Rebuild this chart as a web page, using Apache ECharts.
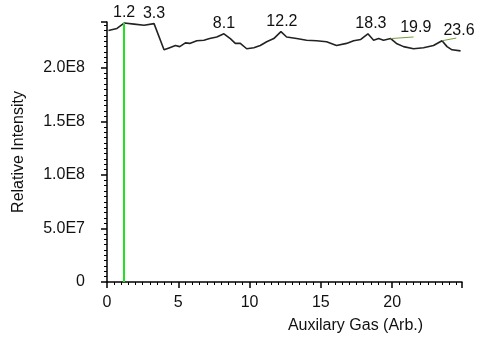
<!DOCTYPE html>
<html>
<head>
<meta charset="utf-8">
<script src="https://cdn.jsdelivr.net/npm/echarts@6/dist/echarts.min.js"></script>
<style>
  html, body { margin: 0; padding: 0; background: #fff; }
  #chart { width: 478px; height: 339px; }
</style>
</head>
<body>
<div id="chart"></div>
<script>
// 曲线数据 (x = Auxilary Gas, y = Relative Intensity)
const gasX = [0.1, 0.7, 1.2, 1.9, 2.6, 3.3, 4.0, 4.4, 4.8, 5.1, 5.5, 5.8, 6.3, 6.8, 7.2, 7.7, 8.2,
  8.65, 9.0, 9.35, 9.8, 10.3, 10.75, 11.2, 11.7, 12.2, 12.6, 13.3, 14.0, 14.7, 15.4, 16.1, 16.8,
  17.3, 17.8, 18.3, 18.7, 19.05, 19.4, 19.9, 20.3, 20.8, 21.5, 22.2, 22.9, 23.5, 23.85, 24.2, 24.8]
const intensity = [2.35e8, 2.37e8, 2.42e8, 2.41e8, 2.40e8, 2.415e8, 2.17e8, 2.19e8, 2.21e8, 2.20e8, 2.235e8, 2.23e8, 2.255e8, 2.26e8, 2.275e8, 2.29e8, 2.32e8,
  2.275e8, 2.23e8, 2.23e8, 2.18e8, 2.19e8, 2.21e8, 2.245e8, 2.275e8, 2.34e8, 2.29e8, 2.275e8, 2.26e8, 2.255e8, 2.245e8, 2.21e8, 2.23e8,
  2.255e8, 2.267e8, 2.32e8, 2.26e8, 2.275e8, 2.26e8, 2.275e8, 2.23e8, 2.20e8, 2.18e8, 2.19e8, 2.21e8, 2.255e8, 2.20e8, 2.17e8, 2.16e8]

// 峰值标注
const peakLabels = ['1.2', '3.3', '8.1', '12.2', '18.3', '19.9', '23.6']
const peakX = [1.2, 3.3, 8.2, 12.2, 18.3, 19.9, 23.5]
const peakY = [2.42e8, 2.415e8, 2.32e8, 2.34e8, 2.32e8, 2.275e8, 2.255e8]
const labelShift = [[0, 0], [0, 0], [0, 0], [1, 0], [3, 0], [25, 0], [17, 0]]

const yTickLabels = { 0: '0', 50000000: '5.0E7', 100000000: '1.0E8', 150000000: '1.5E8', 200000000: '2.0E8' }

const chart = echarts.init(document.getElementById('chart'))

const textFont = 'Liberation Sans'

const markPoints = peakLabels.map((t, i) => ({
  coord: [peakX[i], peakY[i]],
  value: t,
  symbol: 'circle',
  symbolSize: 1,
  itemStyle: { color: 'rgba(0,0,0,0)' },
  label: {
    show: true,
    formatter: t,
    position: 'top',
    distance: 2,
    offset: labelShift[i],
    color: '#111',
    fontSize: 16,
    fontFamily: textFont
  }
}))

// 19.9 和 23.6 的引线
const leaderLines = [
  [{ coord: [19.9, 2.275e8] }, { coord: [21.5, 2.29e8] }],
  [{ coord: [23.5, 2.255e8] }, { coord: [24.5, 2.28e8] }],
  [{ coord: [3.3, 2.415e8] }, { coord: [3.6, 2.44e8] }]
]

const options = {
  animation: false,
  grid: { left: 107, right: 16, top: 22, bottom: 56 },
  xAxis: {
    type: 'value',
    min: 0,
    max: 24.9,
    interval: 5,
    name: 'Auxilary Gas (Arb.)',
    nameLocation: 'middle',
    nameGap: 36,
    nameTextStyle: { color: '#111', fontSize: 16, fontFamily: textFont, padding: [0, 0, 0, 142] },
    axisLine: { lineStyle: { color: '#000', width: 1.5 } },
    axisTick: { length: 6, lineStyle: { color: '#000', width: 1.5 } },
    minorTick: { show: true, splitNumber: 10, length: 3, lineStyle: { color: '#000' } },
    axisLabel: { color: '#111', fontSize: 16, fontFamily: textFont, margin: 13, showMaxLabel: false },
    splitLine: { show: false }
  },
  yAxis: {
    type: 'value',
    min: 0,
    max: 2.43e8,
    interval: 5e7,
    name: 'Relative Intensity',
    nameLocation: 'middle',
    nameGap: 80,
    nameTextStyle: { color: '#111', fontSize: 16, fontFamily: textFont },
    axisLine: { show: true, lineStyle: { color: '#000', width: 1.5 } },
    axisTick: { show: true, length: 6, lineStyle: { color: '#000', width: 1.5 } },
    minorTick: { show: true, splitNumber: 10, length: 3, lineStyle: { color: '#000' } },
    axisLabel: {
      color: '#111', fontSize: 16, fontFamily: textFont, margin: 22,
      formatter: v => yTickLabels[v] || ''
    },
    splitLine: { show: false }
  },
  series: [{
    type: 'line',
    data: gasX.map((x, i) => [x, intensity[i]]),
    showSymbol: false,
    lineStyle: { color: '#222', width: 1.6 },
    markPoint: { data: markPoints, silent: true },
    markLine: {
      silent: true,
      symbol: 'none',
      label: { show: false },
      lineStyle: { color: '#7a9a40', width: 1, type: 'solid' },
      data: leaderLines.concat([
        [{ coord: [1.2, 0], lineStyle: { color: '#22e022', width: 2 } },
         { coord: [1.2, 2.42e8] }]
      ])
    }
  }]
}

chart.setOption(options)

window.addEventListener('resize', () => {
  chart.resize()
})
</script>
</body>
</html>
